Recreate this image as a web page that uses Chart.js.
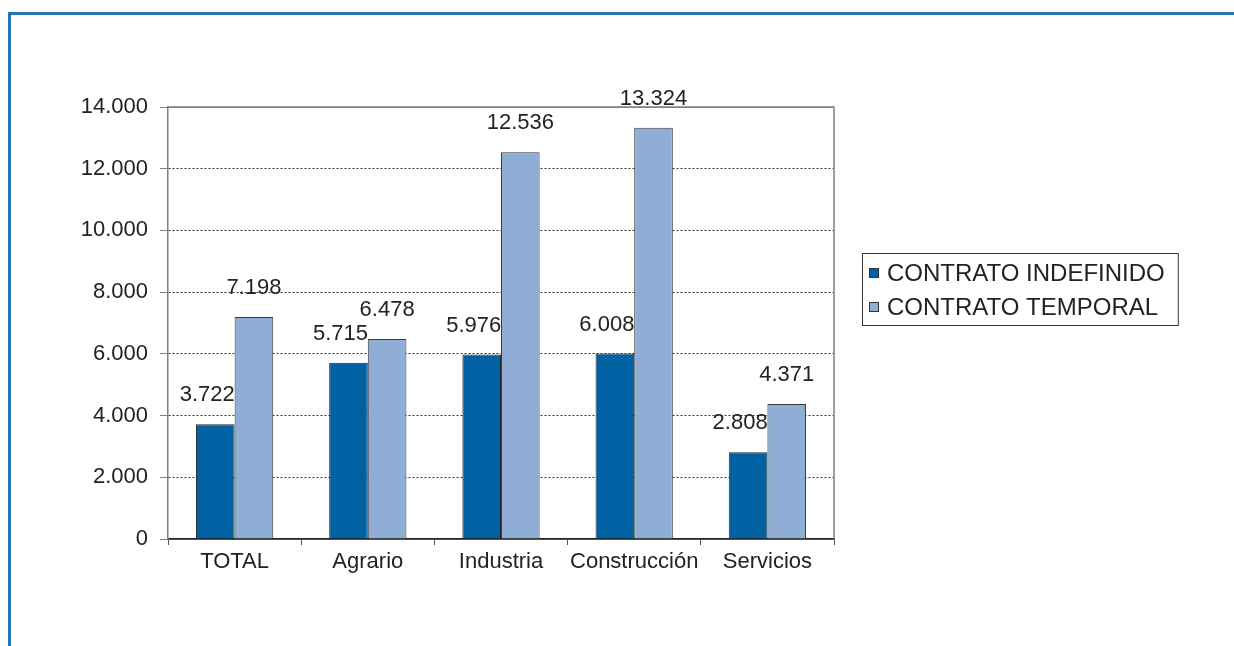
<!DOCTYPE html>
<html>
<head>
<meta charset="utf-8">
<script src="https://cdn.jsdelivr.net/npm/chart.js@4.4.0/dist/chart.umd.min.js"></script>
<style>
  html, body { margin: 0; padding: 0; background: #fff; }
  #wrap { position: relative; width: 1234px; height: 646px; overflow: hidden; }
  #frame { position: absolute; left: 8px; top: 12px; right: -10px; bottom: -10px;
           border-top: 3px solid #2674b4; border-left: 3px solid #2674b4; }
  canvas { position: absolute; left: 0; top: 0; }
</style>
</head>
<body>
<div id="wrap">
  <div id="frame"></div>
  <canvas id="chart" width="1234" height="646"></canvas>
</div>
<script>
const categories = ["TOTAL", "Agrario", "Industria", "Construcción", "Servicios"];
const indefinido = [3722, 5715, 5976, 6008, 2808];
const temporal = [7198, 6478, 12536, 13324, 4371];
const seriesNames = ["CONTRATO INDEFINIDO", "CONTRATO TEMPORAL"];
const seriesColors = ["#0061a3", "#90aed5"];

const FONT = "'Liberation Sans', Arial, sans-serif";

function fmt(v) {
  return String(v).replace(/\B(?=(\d{3})+(?!\d))/g, ".");
}

// value labels above the bars
const valueLabels = {
  id: "valueLabels",
  afterDatasetsDraw(chart) {
    const ctx = chart.ctx;
    ctx.save();
    ctx.font = "22px " + FONT;
    ctx.fillStyle = "#222";
    ctx.textAlign = "center";
    ctx.textBaseline = "middle";
    chart.data.datasets.forEach((ds, i) => {
      chart.getDatasetMeta(i).data.forEach((bar, j) => {
        const shift = i === 0 ? -8 : 0;
        ctx.fillText(fmt(ds.data[j]), bar.x + shift, bar.y - 29);
      });
    });
    ctx.restore();
  }
};

// plot frame + boxed legend on the right
const frameAndLegend = {
  id: "frameAndLegend",
  afterDraw(chart) {
    const ctx = chart.ctx;
    const a = chart.chartArea;
    ctx.save();
    ctx.strokeStyle = "#808080";
    ctx.lineWidth = 1.5;
    ctx.beginPath();
    ctx.moveTo(a.left, a.top);
    ctx.lineTo(a.right, a.top);
    ctx.lineTo(a.right, a.bottom);
    ctx.stroke();

    // legend
    ctx.font = "24px " + FONT;
    const bx = a.right + 28, by = a.top + 146;
    let tw = 0;
    chart.data.datasets.forEach(ds => { tw = Math.max(tw, ctx.measureText(ds.label).width); });
    const bw = 25 + tw + 13, bh = 72;
    ctx.strokeStyle = "#333";
    ctx.lineWidth = 1;
    ctx.strokeRect(bx + 0.5, by + 0.5, bw, bh);
    ctx.textBaseline = "middle";
    ctx.textAlign = "left";
    chart.data.datasets.forEach((ds, i) => {
      const cy = by + 20 + i * 34;
      ctx.fillStyle = ds.backgroundColor;
      ctx.fillRect(bx + 7, cy - 5, 10, 10);
      ctx.strokeStyle = "#333";
      ctx.strokeRect(bx + 7.5, cy - 4.5, 9, 9);
      ctx.fillStyle = "#222";
      ctx.fillText(ds.label, bx + 25, cy + 1);
    });
    ctx.restore();
  }
};

new Chart(document.getElementById("chart"), {
  type: "bar",
  data: {
    labels: categories,
    datasets: [
      { label: seriesNames[0], data: indefinido, backgroundColor: seriesColors[0],
        borderColor: "#2a2a2a", borderWidth: 1 },
      { label: seriesNames[1], data: temporal, backgroundColor: seriesColors[1],
        borderColor: "#3a3a3a", borderWidth: 1 }
    ]
  },
  options: {
    responsive: false,
    animation: false,
    devicePixelRatio: 1,
    layout: { padding: { left: 0, right: 400, top: 107, bottom: 47 } },
    datasets: { bar: { categoryPercentage: 0.58, barPercentage: 1.0 } },
    plugins: {
      legend: { display: false },
      tooltip: { enabled: false }
    },
    scales: {
      x: {
        afterFit: s => { s.height = 60; },
        grid: { drawOnChartArea: false, tickLength: 6, color: "#555", offset: true },
        border: { color: "#222", width: 1.5 },
        ticks: { color: "#222", font: { size: 22, family: FONT }, padding: 4,
                 maxRotation: 0, minRotation: 0, autoSkip: false }
      },
      y: {
        min: 0,
        max: 14000,
        afterFit: s => { s.width = 168; },
        ticks: { stepSize: 2000, color: "#222", padding: 12,
                 font: { size: 22, family: FONT }, callback: v => fmt(v) },
        grid: {
          color: c => (c.tick && (c.tick.value === 14000 || c.tick.value === 0)) ? "#808080" : "#333",
          tickLength: 8, tickColor: "#808080", tickBorderDash: [], lineWidth: 1
        },
        border: { color: "#808080", width: 1.5,
                  dash: c => (c.tick && (c.tick.value === 14000 || c.tick.value === 0)) ? [] : [2, 2] }
      }
    }
  },
  plugins: [valueLabels, frameAndLegend]
});
</script>
</body>
</html>
